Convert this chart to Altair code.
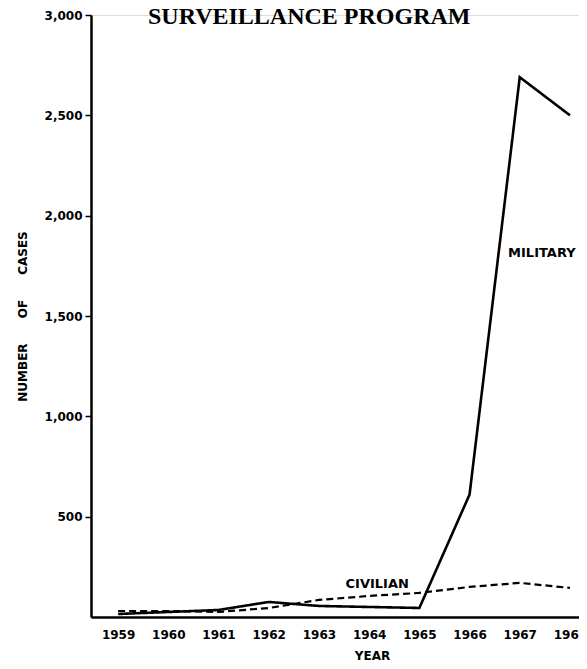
import altair as alt
import pandas as pd

years = [1959, 1960, 1961, 1962, 1963, 1964, 1965, 1966, 1967, 1968]
military = [15, 25, 35, 75, 55, 50, 45, 610, 2690, 2500]
civilian = [30, 30, 25, 45, 85, 105, 120, 150, 170, 145]

y_ticks = [500, 1000, 1500, 2000, 2500, 3000]
boundaries = [1959.5, 1960.5, 1961.5, 1962.5, 1963.5, 1964.5, 1965.5, 1966.5, 1967.5]

label_names = ["MILITARY", "CIVILIAN"]
label_years = [1967.44, 1964.16]
label_values = [1814, 165]

df = pd.DataFrame({
    "year": years * 2,
    "cases": military + civilian,
    "series": ["Military"] * len(years) + ["Civilian"] * len(years),
})
labels = pd.DataFrame({"name": label_names, "year": label_years, "cases": label_values})

NB = "\u00a0"
x_scale = alt.Scale(domain=[1958.46, 1968.18], nice=False, zero=False)
y_scale = alt.Scale(domain=[0, 3000], nice=False)

x_axis = alt.Axis(
    values=years + boundaries,
    labelExpr="datum.value % 1 === 0 ? '' + datum.value : ''",
    tickOpacity={"condition": {"test": "datum.value % 1 === 0", "value": 0}, "value": 1},
    tickSize=5, tickWidth=1.5, tickColor="black",
    domainColor="black", domainWidth=2.5,
    labelFont="DejaVu Sans", labelFontWeight="bold", labelFontSize=12, labelColor="black",
    labelPadding=7, labelOverlap=False, labelFlush=False, labelBound=False,
    grid=False,
    title="YEAR", titleFont="DejaVu Sans", titleFontWeight="bold", titleFontSize=12,
    titleColor="black", titleX=281, titleY=42, titleAlign="center", titleBaseline="alphabetic",
)
y_axis = alt.Axis(
    values=y_ticks, format=",.0f",
    tickSize=6, tickWidth=1.5, tickColor="black",
    domainColor="black", domainWidth=2.5,
    labelFont="DejaVu Sans", labelFontWeight="bold", labelFontSize=12, labelColor="black",
    labelPadding=3, grid=False,
    title="NUMBER" + NB * 6 + "OF" + NB * 6 + "CASES",
    titleFont="DejaVu Sans", titleFontWeight="bold", titleFontSize=12, titleColor="black",
    titlePadding=15,
)

lines = alt.Chart(df).mark_line(color="black", clip=True).encode(
    x=alt.X("year:Q", scale=x_scale, axis=x_axis),
    y=alt.Y("cases:Q", scale=y_scale, axis=y_axis),
    strokeDash=alt.StrokeDash(
        "series:N",
        scale=alt.Scale(domain=["Military", "Civilian"], range=[[1, 0], [7, 4]]),
        legend=None,
    ),
    strokeWidth=alt.StrokeWidth(
        "series:N",
        scale=alt.Scale(domain=["Military", "Civilian"], range=[2.6, 2.2]),
        legend=None,
    ),
    detail="series:N",
)

texts = alt.Chart(labels).mark_text(
    font="DejaVu Sans", fontWeight="bold", fontSize=13, color="black",
    align="center", baseline="middle",
).encode(
    x=alt.X("year:Q", scale=x_scale),
    y=alt.Y("cases:Q", scale=y_scale),
    text="name:N",
)

chart = alt.layer(lines, texts).properties(
    width=488,
    height=602,
    padding={"left": 83, "top": 7, "right": 0, "bottom": 44},
    autosize=alt.AutoSizeParams(type="none"),
    title=alt.TitleParams(
        "SURVEILLANCE PROGRAM",
        font="Liberation Serif", fontSize=24, fontWeight="bold", color="black",
        anchor="start", frame="group", dx=57, dy=30, offset=-9, baseline="alphabetic",
    ),
).configure_view(stroke=None).configure(background="white")

chart.save("out.html", embed_options={"renderer": "svg", "actions": False})
